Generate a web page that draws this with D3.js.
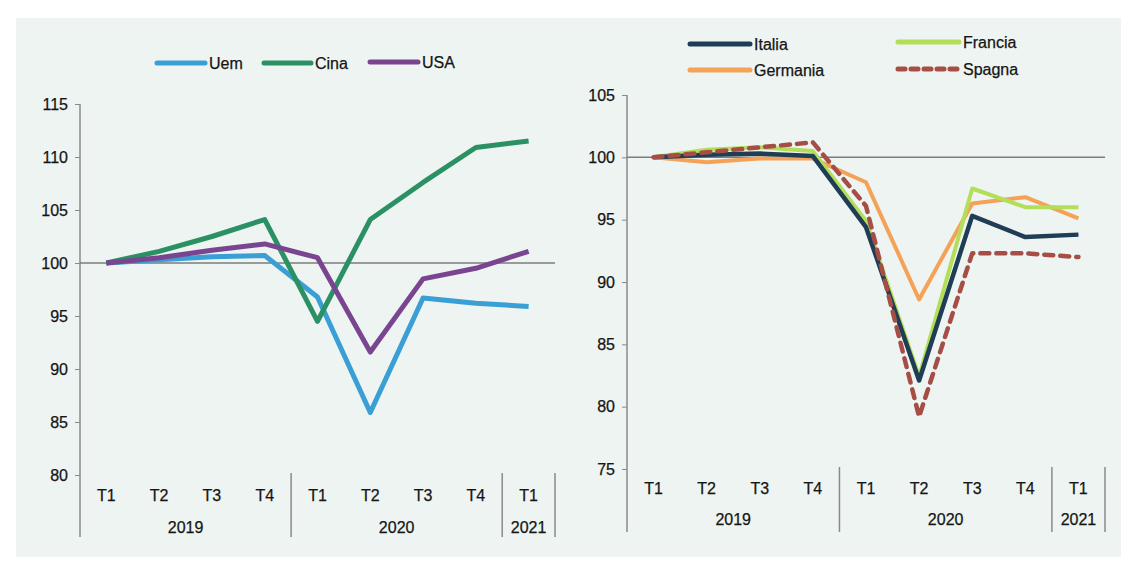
<!DOCTYPE html>
<html>
<head>
<meta charset="utf-8">
<script src="https://cdnjs.cloudflare.com/ajax/libs/d3/7.8.5/d3.min.js"></script>
<style>
  body { margin: 0; background: #fff; }
  svg { display: block; font-family: "Liberation Sans", Arial, sans-serif; }
  text { stroke: #151515; stroke-width: 0.25px; }
</style>
</head>
<body>
<svg id="chart" width="1129" height="563"></svg>
<script>
// categories
var quarters = ["T1", "T2", "T3", "T4", "T1", "T2", "T3", "T4", "T1"];
var years = [{label: "2019", n: 4}, {label: "2020", n: 4}, {label: "2021", n: 1}];

// left panel
var uem  = [100, 100.3, 100.6, 100.7, 96.8, 85.9, 96.7, 96.2, 95.9];
var cina = [100, 101.1, 102.5, 104.1, 94.5, 104.1, 107.6, 110.9, 111.5];
var usa  = [100, 100.5, 101.2, 101.8, 100.5, 91.6, 98.5, 99.5, 101.1];
var leftTicks = [80, 85, 90, 95, 100, 105, 110, 115];

// right panel
var italia   = [100, 100.2, 100.3, 100.1, 94.4, 82.1, 95.3, 93.6, 93.8];
var francia  = [100, 100.6, 100.8, 100.5, 94.9, 82.4, 97.5, 96.0, 96.0];
var germania = [100, 99.6, 99.9, 99.9, 98.0, 88.6, 96.3, 96.8, 95.1];
var spagna   = [100, 100.4, 100.8, 101.2, 96.1, 79.2, 92.3, 92.3, 92.0];
var rightTicks = [75, 80, 85, 90, 95, 100, 105];

var fs = 16;
var svg = d3.select("#chart");

svg.append("rect")
  .attr("x", 16).attr("y", 18).attr("width", 1105).attr("height", 539)
  .attr("fill", "#eef4f1");

function panel(opt) {
  var g = svg.append("g");
  var x = d3.scaleBand().domain(d3.range(quarters.length)).range([opt.x0, opt.x1]);
  var y = d3.scaleLinear().domain(opt.domain).range([opt.yBottom, opt.yTop]);

  // y axis
  var yAxis = d3.axisLeft(y).tickValues(opt.ticks).tickSize(5).tickPadding(7);
  var ya = g.append("g").attr("transform", "translate(" + opt.x0 + ",0)").call(yAxis);
  ya.select(".domain").remove();
  ya.selectAll("line").attr("stroke", "#8a8a8a");
  ya.selectAll("text").attr("font-size", fs).attr("fill", "#151515");
  g.append("line")
    .attr("x1", opt.x0).attr("x2", opt.x0)
    .attr("y1", opt.yTop).attr("y2", opt.axisBottom)
    .attr("stroke", "#8a8a8a").attr("stroke-width", 1.5);

  // reference line at 100
  g.append("line")
    .attr("x1", opt.x0).attr("x2", opt.x1)
    .attr("y1", y(100)).attr("y2", y(100))
    .attr("stroke", "#7d7d7d").attr("stroke-width", 1.5);

  // quarter labels
  g.selectAll(".q").data(quarters).enter().append("text")
    .attr("x", function(d, i) { return x(i) + x.bandwidth() / 2; })
    .attr("y", opt.qY)
    .attr("text-anchor", "middle")
    .attr("font-size", fs)
    .attr("fill", "#151515")
    .text(function(d) { return d; });

  // year groups and separators
  var start = 0;
  years.forEach(function(yr) {
    var a = x(start), b = x(start + yr.n - 1) + x.bandwidth();
    g.append("text")
      .attr("x", (a + b) / 2).attr("y", opt.yearY)
      .attr("text-anchor", "middle")
      .attr("font-size", fs)
      .attr("fill", "#151515")
      .text(yr.label);
    g.append("line")
      .attr("x1", b).attr("x2", b)
      .attr("y1", opt.sepTop).attr("y2", opt.axisBottom)
      .attr("stroke", "#8a8a8a").attr("stroke-width", 1.5);
    start += yr.n;
  });

  var line = d3.line()
    .x(function(d, i) { return x(i) + x.bandwidth() / 2; })
    .y(function(d) { return y(d); });

  opt.series.forEach(function(s) {
    g.append("path")
      .attr("d", line(s.values))
      .attr("fill", "none")
      .attr("stroke", s.color)
      .attr("stroke-width", s.width)
      .attr("stroke-linejoin", "round")
      .attr("stroke-linecap", s.dash ? "round" : "butt")
      .attr("stroke-dasharray", s.dash || null);
  });

  // legend
  opt.series.forEach(function(s) {
    var lg = svg.append("g").attr("transform", "translate(" + s.lx + "," + s.ly + ")");
    lg.append("line")
      .attr("x1", 0).attr("x2", s.lw)
      .attr("stroke", s.color).attr("stroke-width", 5)
      .attr("stroke-linecap", "round")
      .attr("stroke-dasharray", s.dash ? "7,6" : null);
    lg.append("text")
      .attr("x", s.lw + 4).attr("y", 6)
      .attr("font-size", fs)
      .attr("fill", "#151515")
      .text(s.name);
  });
}

panel({
  x0: 80, x1: 555, yTop: 104, yBottom: 475, domain: [80, 115], ticks: leftTicks,
  axisBottom: 537, sepTop: 473, qY: 501, yearY: 533,
  series: [
    {name: "Uem",  values: uem,  color: "#3a9fd5", width: 5, lx: 157, ly: 63, lw: 48},
    {name: "Cina", values: cina, color: "#2b9164", width: 5, lx: 264, ly: 63, lw: 47},
    {name: "USA",  values: usa,  color: "#7a4590", width: 5, lx: 370, ly: 62, lw: 48}
  ]
});

panel({
  x0: 627, x1: 1105, yTop: 95, yBottom: 469, domain: [75, 105], ticks: rightTicks,
  axisBottom: 532, sepTop: 467, qY: 494, yearY: 525,
  series: [
    {name: "Germania", values: germania, color: "#f4a257", width: 4, lx: 690, ly: 70, lw: 60},
    {name: "Francia",  values: francia,  color: "#b3de5a", width: 4, lx: 898, ly: 42, lw: 61},
    {name: "Italia",   values: italia,   color: "#1f3e55", width: 4.5, lx: 690, ly: 44, lw: 60},
    {name: "Spagna",   values: spagna,   color: "#a64e46", width: 4.5, dash: "9,7", lx: 898, ly: 69, lw: 61}
  ]
});
</script>
</body>
</html>
